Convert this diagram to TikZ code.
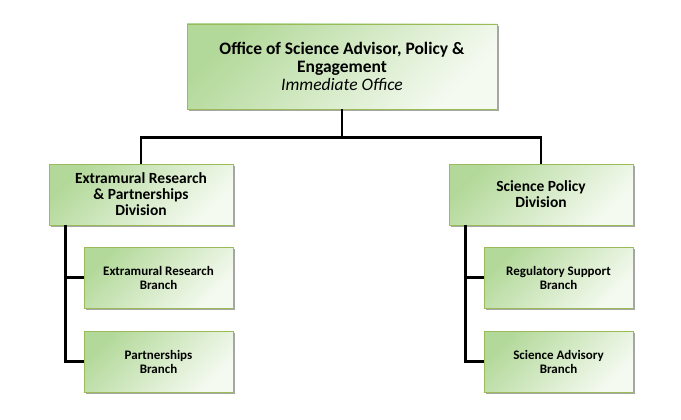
\documentclass[tikz,border=0pt]{standalone}
\usepackage{fontspec}
\setmainfont{Carlito}
\usetikzlibrary{
  calc,
  positioning,
  shadows
}
\definecolor{boxgreen}{HTML}{B3D99A}
\definecolor{boxpale}{HTML}{F5FAF1}
\definecolor{boxedge}{HTML}{9BBB59}
\tikzset{
  % For all boxes of the chart.
  unit/.style={
    rectangle,
    draw=boxedge,
    line width=0.8pt,
    top color=boxgreen,
    bottom color=boxpale,
    shading angle=45,
    align=center,
    inner sep=0pt,
    drop shadow={shadow xshift=2pt, shadow yshift=-2pt,
                 fill=black, opacity=0.35}},
%
  % For the head office.
  head/.style={
    unit,
    minimum width=310pt,
    minimum height=85pt,
    font=\fontsize{17.5}{18}\selectfont},
%
  % For the divisions.
  division/.style={
    unit,
    minimum width=184pt,
    minimum height=61pt,
    font=\fontsize{15.5}{16}\selectfont\bfseries},
%
  % For the branches.
  branch/.style={
    unit,
    minimum width=149pt,
    minimum height=61pt,
    font=\fontsize{13}{14}\selectfont\bfseries},
%
  % For the connecting lines.
  link/.style={
    line width=2.4pt,
    black}
}

\begin{document}
\begin{tikzpicture}[x=1pt, y=-1pt]
  \useasboundingbox (0,0) rectangle (681,420);

  \node[head] (office) at (342,66.5)
    {\textbf{Office of Science Advisor, Policy \&}\\
     \textbf{Engagement}\\
     \textit{Immediate Office}};

  \node[division] (erpd) at (141,194.5)
    {Extramural Research\\ \& Partnerships\\ Division};
  \node[division] (spd) at (541,194.5)
    {Science Policy\\ Division};

  \node[branch] (erb) at (158.5,277.5) {Extramural Research\\ Branch};
  \node[branch] (pb)  at (158.5,361.5) {Partnerships\\ Branch};
  \node[branch] (rsb) at (558.5,277.5) {Regulatory Support\\ Branch};
  \node[branch] (sab) at (558.5,361.5) {Science Advisory\\ Branch};

  \coordinate (bus) at ($(office.south) + (0,28)$);
  \draw[link] (office.south) -- (bus) -| (erpd.north);
  \draw[link] (bus) -| (spd.north);

  \draw[link] ($(erpd.south west) + (17,0)$) |- (erb.west);
  \draw[link] ($(erpd.south west) + (17,0)$) |- (pb.west);
  \draw[link] ($(spd.south west) + (17,0)$) |- (rsb.west);
  \draw[link] ($(spd.south west) + (17,0)$) |- (sab.west);
\end{tikzpicture}
\end{document}
